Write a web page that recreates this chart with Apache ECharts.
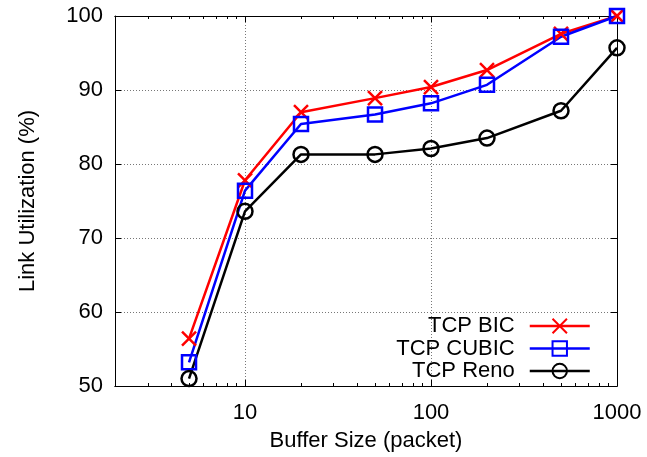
<!DOCTYPE html>
<html>
<head>
<meta charset="utf-8">
<script src="https://cdn.jsdelivr.net/npm/echarts@6/dist/echarts.min.js"></script>
<style>
  html, body { margin: 0; padding: 0; background: #fff; }
  #chart { width: 647px; height: 457px; }
</style>
</head>
<body>
<div id="chart"></div>
<script>
// Buffer sizes (packets) on a logarithmic axis
const bufferSizes = [5, 10, 20, 50, 100, 200, 500, 1000];
// Link utilization (%) per congestion control algorithm
const bicUtil   = [56.4, 77.8, 87.0, 88.9, 90.4, 92.7, 97.6, 100.0];
const cubicUtil = [53.2, 76.4, 85.4, 86.7, 88.2, 90.7, 97.2, 100.0];
const renoUtil  = [51.0, 73.6, 81.3, 81.3, 82.1, 83.5, 87.2, 95.7];

const xMajorTicks = [10, 100, 1000];
const xMinorTicks = [2,3,4,5,6,7,8,9,20,30,40,50,60,70,80,90,200,300,400,500,600,700,800,900];

const FONT = 'Liberation Sans, Arial, sans-serif';
const pairs = ys => bufferSizes.map((x, i) => [x, ys[i]]);

const crossPath = 'path://M0,0L10,10M10,0L0,10';
const squarePath = 'path://M0,0L10,0L10,10L0,10Z';

function xAxis(position, ticks, len, showLabel, showGrid) {
  return {
    type: 'log', logBase: 10, min: 2, max: 1000, position,
    gridIndex: 0,
    axisLine: { show: true, lineStyle: { color: '#000', width: 1 } },
    axisTick: { show: true, inside: true, length: len, customValues: ticks,
                lineStyle: { color: '#000', width: 1 } },
    axisLabel: showLabel
      ? { show: true, customValues: xMajorTicks, color: '#000', fontSize: 22, fontFamily: FONT,
          margin: 16, formatter: v => String(Math.round(v)) }
      : { show: false },
    splitLine: showGrid
      ? { show: true, lineStyle: { color: '#777', type: [1, 2], width: 1 } }
      : { show: false },
    minorTick: { show: false },
    name: showLabel ? 'Buffer Size (packet)' : '',
    nameLocation: 'middle', nameGap: 44,
    nameTextStyle: { color: '#000', fontSize: 22, fontFamily: FONT }
  };
}

const option = {
  backgroundColor: '#fff',
  animation: false,
  grid: { left: 115, right: 30, top: 16, bottom: 70, containLabel: false },
  xAxis: [
    xAxis('bottom', xMajorTicks, 6, true, true),
    xAxis('bottom', xMinorTicks, 3, false, false),
    xAxis('top', xMajorTicks, 6, false, false),
    xAxis('top', xMinorTicks, 3, false, false)
  ],
  yAxis: [
    {
      type: 'value', min: 50, max: 100, interval: 10, position: 'left',
      axisLine: { show: true, lineStyle: { color: '#000', width: 1 } },
      axisTick: { show: true, inside: true, length: 6, lineStyle: { color: '#000' } },
      axisLabel: { color: '#000', fontSize: 22, fontFamily: FONT, margin: 12 },
      splitLine: { show: true, lineStyle: { color: '#777', type: [1, 2], width: 1 } },
      name: 'Link Utilization (%)', nameLocation: 'middle', nameGap: 76,
      nameTextStyle: { color: '#000', fontSize: 22, fontFamily: FONT }
    },
    {
      type: 'value', min: 50, max: 100, interval: 10, position: 'right',
      axisLine: { show: true, lineStyle: { color: '#000', width: 1 } },
      axisTick: { show: true, inside: true, length: 6, lineStyle: { color: '#000' } },
      axisLabel: { show: false },
      splitLine: { show: false }
    }
  ],
  legend: {
    orient: 'vertical', align: 'right',
    right: 56, top: 315, padding: 0,
    itemWidth: 60, itemHeight: 18, itemGap: 0.5,
    lineStyle: { width: 2.5 },
    textStyle: { color: '#000', fontSize: 22, lineHeight: 22, fontFamily: FONT, padding: [0, 10, 0, 0] },
    data: ['TCP BIC', 'TCP CUBIC', 'TCP Reno']
  },
  series: [
    {
      name: 'TCP BIC', type: 'line', data: pairs(bicUtil),
      symbol: crossPath, symbolSize: 14, clip: false,
      lineStyle: { color: '#ff0000', width: 2.5 },
      itemStyle: { color: 'rgba(0,0,0,0)', borderColor: '#ff0000', borderWidth: 2.5 }
    },
    {
      name: 'TCP CUBIC', type: 'line', data: pairs(cubicUtil),
      symbol: squarePath, symbolSize: 14, clip: false,
      lineStyle: { color: '#0000ff', width: 2.5 },
      itemStyle: { color: 'rgba(0,0,0,0)', borderColor: '#0000ff', borderWidth: 2.5 }
    },
    {
      name: 'TCP Reno', type: 'line', data: pairs(renoUtil),
      symbol: 'circle', symbolSize: 15, clip: false,
      lineStyle: { color: '#000000', width: 2.5 },
      itemStyle: { color: 'rgba(0,0,0,0)', borderColor: '#000000', borderWidth: 2.5 }
    }
  ]
};

const chart = echarts.init(document.getElementById('chart'), null, { renderer: 'canvas' });
chart.setOption(option);
</script>
</body>
</html>
